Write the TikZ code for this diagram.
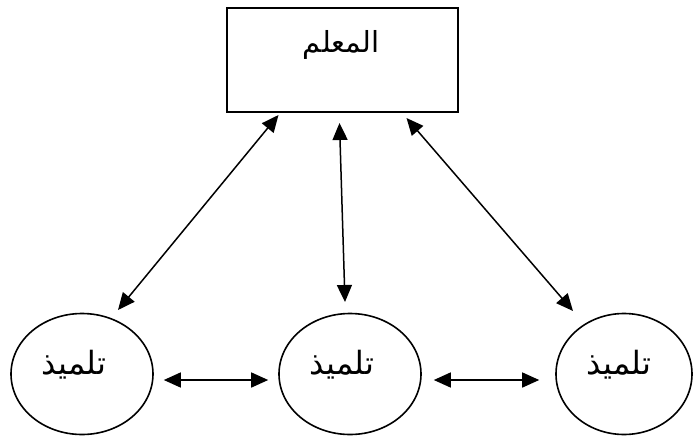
\documentclass[tikz,border=0pt]{standalone}
\usepackage{fontspec}
\newfontfamily\arabicfont[Script=Arabic]{DejaVu Sans}
\TeXXeTstate=1
\usetikzlibrary{arrows.meta,shapes.geometric}
\tikzset{
  box/.style={draw, line width=2.2pt, rectangle, inner sep=0pt, minimum width=231pt, minimum height=104pt},
  pupil/.style={draw, line width=1.6pt, ellipse, inner sep=0pt, minimum width=142pt, minimum height=121pt},
  lbl/.style={inner sep=0pt, font=\arabicfont\fontsize{32}{38}\selectfont},
  arr/.style={{Triangle[length=17pt,width=15pt]}-{Triangle[length=17pt,width=15pt]}, line width=1.5pt}
}
\begin{document}
\begin{tikzpicture}[x=1pt,y=-1pt]
\useasboundingbox (0,0) rectangle (694,439);
\node[box] (teacher) at (342.5,60) {};
\node[lbl, font=\arabicfont\fontsize{29}{34}\selectfont] (tlabel) at (341,45) {\beginR المعلم\endR};
\node[pupil] (s1) at (82,374) {};
\node[pupil] (s2) at (350,374) {};
\node[pupil, minimum width=136pt] (s3) at (624,374) {};
\node[lbl] (l1) at (74,365) {\beginR تلميذ\endR};
\node[lbl] (l2) at (342,365) {\beginR تلميذ\endR};
\node[lbl] (l3) at (619,365) {\beginR تلميذ\endR};
\draw[arr] ([shift={(-64,55)}]teacher.center) -- ([shift={(36,-64)}]s1.center);
\draw[arr] ([shift={(-3,63)}]teacher.center) -- ([shift={(-5,-72)}]s2.center);
\draw[arr] ([shift={(64,58)}]teacher.center) -- ([shift={(-51,-63)}]s3.center);
\draw[arr] ([shift={(10,6)}]s1.east) -- ([shift={(-10,6)}]s2.west);
\draw[arr] ([shift={(12,6)}]s2.east) -- ([shift={(-16,6)}]s3.west);
\end{tikzpicture}
\end{document}
